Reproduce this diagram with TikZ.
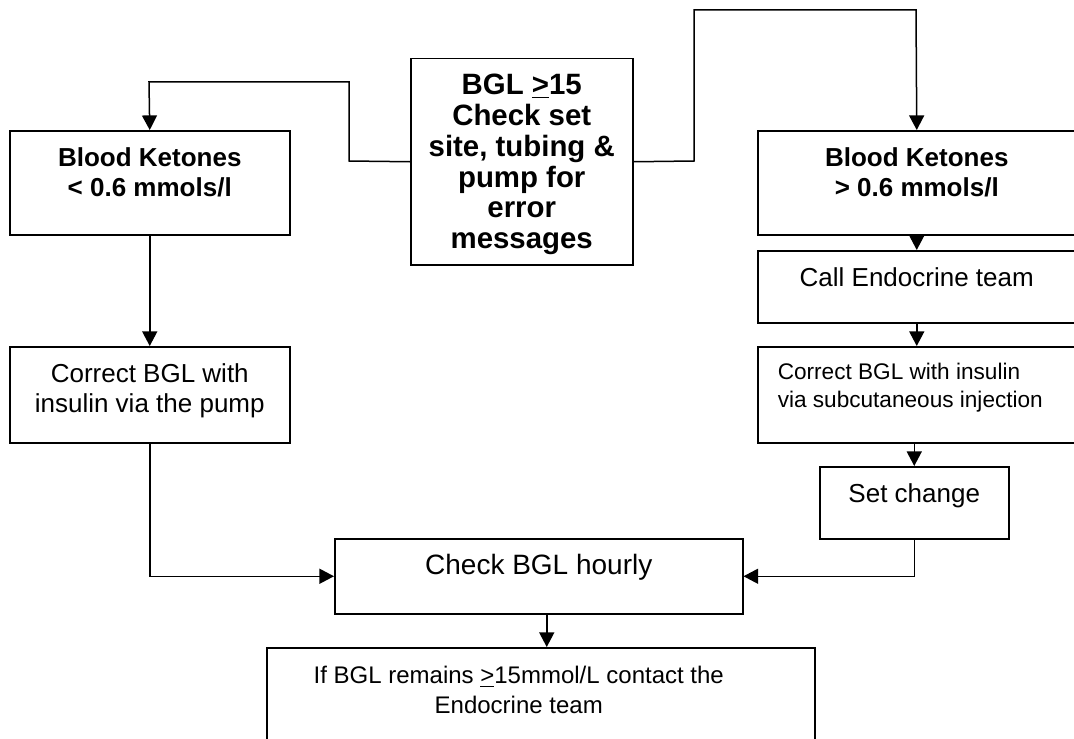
\documentclass[tikz,border=0pt]{standalone}
\usepackage{fontspec}
\setmainfont{Liberation Sans}
\usepackage{tikz}
\usetikzlibrary{arrows.meta}

% box text: width, height, text (top aligned)
\newcommand{\flowtext}[3]{\parbox[c][#2][t]{#1}{\centering\rule{0pt}{18pt}#3}}

\begin{document}
\begin{tikzpicture}[
		x=0.5pt,
		y=-0.5pt,
		>={Triangle[length=7.3pt,width=7.5pt]},
		line width=0.75pt,
		font=\fontsize{13}{15}\selectfont,
		flow node/.style={draw, inner sep=0pt, anchor=north west},
		link/.style={->}
		]
		\useasboundingbox (0,0) rectangle (1074,738);
		\clip (0,0) rectangle (1074,738);
		
		\node[flow node] (check) at (410,58) {\flowtext{111pt}{103pt}{\fontsize{14.7}{15.4}\selectfont\bfseries BGL \underline{>}15\\Check set\\site, tubing \&\\pump for\\error\\messages}};
		\node[flow node] (lowK) at (9,130) {\flowtext{140pt}{52pt}{\bfseries Blood Ketones\\< 0.6 mmols/l}};
		\node[flow node] (highK) at (757,130) {\flowtext{159pt}{52pt}{\bfseries Blood Ketones\\> 0.6 mmols/l}};
		\node[flow node] (call) at (757,250) {\flowtext{159pt}{36pt}{Call Endocrine team}};
		\node[flow node] (subcut) at (757,346) {\parbox[c][48pt][t]{159pt}{\fontsize{11.3}{14}\selectfont\leftskip=10pt\rule{0pt}{16.5pt}Correct BGL with insulin\\via subcutaneous injection}};
		\node[flow node] (setchg) at (819,466) {\flowtext{94.5pt}{36pt}{Set change}};
		\node[flow node] (pump) at (9,346) {\flowtext{140pt}{48pt}{Correct BGL with\\insulin via the pump}};
		\node[flow node] (hourly) at (334,538) {\flowtext{204pt}{37.5pt}{\fontsize{14}{16}\selectfont Check BGL hourly}};
		\node[flow node] (contact) at (266,647) {\flowtext{274pt}{55pt}{\fontsize{12}{15}\selectfont\advance\rightskip by 22pt If BGL remains \underline{>}15mmol/L contact the\\Endocrine team}};
		
		\draw[link] (check.west) -- (349,161) |- (149,82) -- (lowK.north);
		\draw[link] (check.east) -- (694,161) |- (916,10) -- (highK.north);
		\draw[link] (highK.south) -- (call.north);
		\draw[link] (call.south) -- (subcut.north);
		\draw[link] (setchg.north |- subcut.south) -- (setchg.north);
		\draw[link] (lowK.south) -- (pump.north);
		\draw[link] (pump.south) |- (hourly.west);
		\draw[link] (setchg.south) |- (hourly.east);
		\draw[link] ([xshift=4pt]hourly.south) -- ([xshift=3pt]contact.north);
	\end{tikzpicture}
\end{document}
